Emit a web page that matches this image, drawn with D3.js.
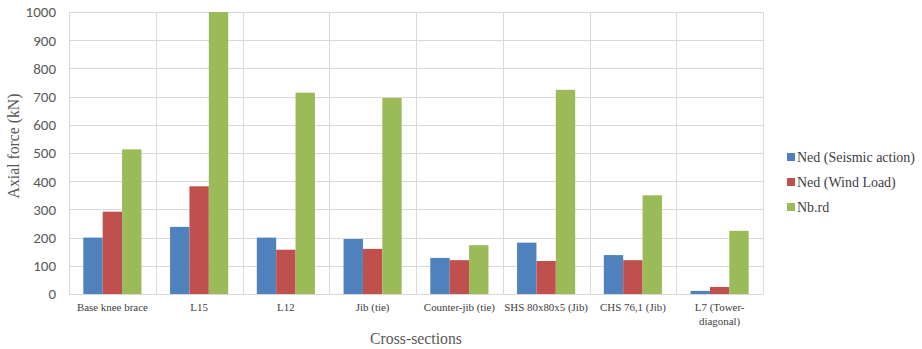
<!DOCTYPE html>
<html>
<head>
<meta charset="utf-8">
<script src="https://cdn.jsdelivr.net/npm/d3@7/dist/d3.min.js"></script>
<style>
  html, body { margin: 0; padding: 0; background: #fff; }
  svg { display: block; }
</style>
</head>
<body>
<svg id="chart" width="922" height="349"></svg>
<script>
// Cross-sections and the axial forces for each load case (kN)
const categories = [
  ["Base knee brace"],
  ["L15"],
  ["L12"],
  ["Jib (tie)"],
  ["Counter-jib (tie)"],
  ["SHS 80x80x5 (Jib)"],
  ["CHS 76,1 (Jib)"],
  ["L7 (Tower-", "diagonal)"]
];
const seriesNames = ["Ned (Seismic action)", "Ned (Wind Load)", "Nb.rd"];
const nedSeismic = [200, 238, 200, 195, 128, 182, 138, 11];
const nedWind    = [292, 382, 157, 160, 120, 117, 120, 25];
const nbRd       = [513, 1000, 714, 695, 173, 724, 350, 224];
const yTicks = [0, 100, 200, 300, 400, 500, 600, 700, 800, 900, 1000];

const colors = ["#4F81BD", "#C0504D", "#9BBB59"];
const series = [nedSeismic, nedWind, nbRd];

const SERIF = '"Liberation Serif"';
const SANS = '"Carlito"';

const svg = d3.select("#chart");
const plot = { left: 69, right: 763, top: 12, bottom: 294 };

// scale a text's font so that its rendered width equals the given width
function fitWidth(sel, width) {
  const fs = parseFloat(sel.style("font-size"));
  const w = sel.node().getComputedTextLength();
  if (w > 0) sel.style("font-size", (fs * width / w).toFixed(2) + "px");
  return parseFloat(sel.style("font-size"));
}

const x = d3.scaleBand()
  .domain(d3.range(categories.length))
  .range([plot.left, plot.right])
  .paddingInner(0)
  .paddingOuter(0);

const y = d3.scaleLinear().domain([0, 1000]).range([plot.bottom, plot.top]);

const groupPad = 0.165; // fraction of band left empty on each side of a bar group
const x1 = d3.scaleBand()
  .domain(d3.range(series.length))
  .range([x.bandwidth() * groupPad, x.bandwidth() * (1 - groupPad)]);

// horizontal gridlines
svg.append("g")
  .selectAll("line")
  .data(yTicks)
  .join("line")
  .attr("x1", plot.left).attr("x2", plot.right)
  .attr("y1", d => Math.round(y(d)) + 0.5).attr("y2", d => Math.round(y(d)) + 0.5)
  .attr("stroke", "#d9d9d9").attr("stroke-width", 1);

// vertical category separators
svg.append("g")
  .selectAll("line")
  .data(d3.range(categories.length + 1))
  .join("line")
  .attr("x1", i => Math.round(plot.left + i * x.bandwidth()) + 0.5)
  .attr("x2", i => Math.round(plot.left + i * x.bandwidth()) + 0.5)
  .attr("y1", plot.top).attr("y2", plot.bottom)
  .attr("stroke", "#d9d9d9").attr("stroke-width", 1);

// bars
const groups = svg.append("g")
  .selectAll("g")
  .data(categories)
  .join("g")
  .attr("transform", (d, i) => `translate(${x(i)},0)`);

groups.selectAll("rect")
  .data((d, i) => series.map((s, k) => ({ k, v: s[i] })))
  .join("rect")
  .attr("x", d => x1(d.k))
  .attr("width", x1.bandwidth())
  .attr("y", d => y(d.v))
  .attr("height", d => y(0) - y(d.v))
  .attr("fill", d => colors[d.k]);

// x-axis baseline
svg.append("line")
  .attr("x1", plot.left).attr("x2", plot.right)
  .attr("y1", plot.bottom + 0.5).attr("y2", plot.bottom + 0.5)
  .attr("stroke", "#d9d9d9");

// y-axis tick labels
const yAxis = d3.axisLeft(y).tickValues(yTicks).tickFormat(d3.format("d")).tickSize(0).tickPadding(13);
const yg = svg.append("g").attr("transform", `translate(${plot.left},0)`).call(yAxis);
yg.select(".domain").remove();
yg.selectAll("text")
  .style("font-family", SANS)
  .style("font-size", "15px")
  .attr("fill", "#595959");

// category labels
const xl = svg.append("g");
const catTexts = categories.map((lines, i) => {
  const t = xl.append("text")
    .attr("x", x(i) + x.bandwidth() / 2)
    .attr("y", 311)
    .attr("text-anchor", "middle")
    .style("font-family", SERIF)
    .style("font-size", "12px")
    .attr("fill", "#404040");
  lines.forEach((ln, j) => {
    t.append("tspan").attr("x", x(i) + x.bandwidth() / 2).attr("dy", j === 0 ? 0 : 14).text(ln);
  });
  return t;
});
const catSize = fitWidth(catTexts[0], 71);
catTexts.forEach(t => t.style("font-size", catSize + "px"));

// axis titles
const yTitle = svg.append("text")
  .attr("transform", `translate(19,146) rotate(-90)`)
  .attr("text-anchor", "middle")
  .style("font-family", SERIF)
  .style("font-size", "16px")
  .attr("fill", "#595959")
  .text("Axial force (kN)");
fitWidth(yTitle, 105);

const xTitle = svg.append("text")
  .attr("x", 416)
  .attr("y", 344)
  .attr("text-anchor", "middle")
  .style("font-family", SERIF)
  .style("font-size", "16px")
  .attr("fill", "#595959")
  .text("Cross-sections");
fitWidth(xTitle, 92);

// legend
const legend = svg.append("g").attr("transform", "translate(787,157)");
const legTexts = seriesNames.map((name, k) => {
  const row = legend.append("g").attr("transform", `translate(0,${k * 25})`);
  row.append("rect").attr("x", 0).attr("y", -4).attr("width", 8).attr("height", 8).attr("fill", colors[k]);
  return row.append("text")
    .attr("x", 10).attr("y", 5)
    .style("font-family", SERIF)
    .style("font-size", "15px")
    .attr("fill", "#404040")
    .text(name);
});
const legSize = fitWidth(legTexts[0], 118);
legTexts.forEach(t => t.style("font-size", legSize + "px"));
</script>
</body>
</html>
